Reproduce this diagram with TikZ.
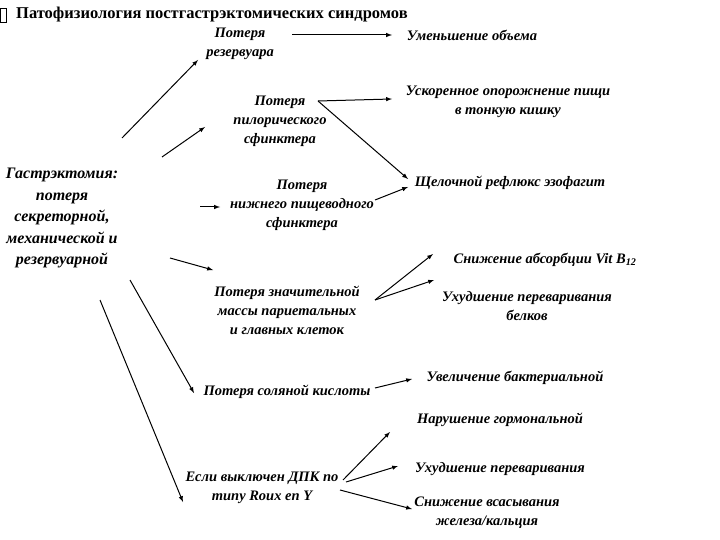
\documentclass[tikz,border=0pt]{standalone}
\usepackage{fontspec}
\setmainfont{Liberation Serif}
\begin{document}
\begin{tikzpicture}[x=1pt,y=-1pt,
 t/.style={font=\bfseries\itshape\fontsize{14.5}{19}\selectfont,align=center,inner sep=0},
 ar/.style={-latex,line width=1pt}]
\useasboundingbox (0,0) rectangle (720,540);
\fill[white] (0,0) rectangle (720,540);
\draw (0,8) rectangle (6,22);
\node[anchor=west,font=\bfseries\fontsize{16.5}{18}\selectfont,inner sep=0] (title) at (16,15) {Патофизиология постгастрэктомических синдромов};
\node[t,font=\bfseries\itshape\fontsize{16}{21.5}\selectfont] (g) at (62,218) {Гастрэктомия:\\потеря\\секреторной,\\механической и\\резервуарной};
\node[t] (a) at (240,44) {Потеря\\резервуара};
\node[t] (a1) at (472,35) {Уменьшение объема};
\node[t] (b) at (280,121) {Потеря\\пилорического\\сфинктера};
\node[t] (b1) at (508,102) {Ускоренное опорожнение пищи\\в тонкую кишку};
\node[t] (c1) at (510,183) {Щелочной рефлюкс эзофагит};
\node[t] (c) at (302,205) {Потеря\\нижнего пищеводного\\сфинктера};
\node[t] (d) at (287,310) {Потеря значительной\\массы париетальных\\и главных клеток};
\node[t] (d1) at (545,260) {Снижение абсорбции Vit B\textsubscript{12}};
\node[t] (d2) at (527,306) {Ухудшение переваривания\\белков};
\node[t] (e) at (287,392) {Потеря соляной кислоты};
\node[t] (e1) at (515,378) {Увеличение бактериальной};
\node[t] (f) at (262,488) {Если выключен ДПК по\\типу Roux en Y};
\node[t] (f1) at (500,420) {Нарушение гормональной};
\node[t] (f2) at (500,469) {Ухудшение переваривания};
\node[t] (f3) at (487,513) {Снижение всасывания\\железа/кальция};
\coordinate (p1) at (122,138); \coordinate (q1) at (198,60);
\coordinate (p2) at (162,157); \coordinate (q2) at (205,127);
\coordinate (p3) at (200,207); \coordinate (q3) at (220,207);
\coordinate (p4) at (170,258); \coordinate (q4) at (213,270);
\coordinate (p5) at (130,280); \coordinate (q5) at (194,393);
\coordinate (p6) at (100,300); \coordinate (q6) at (183,502);
\draw[ar] (p1) -- (q1);
\draw[ar] (p2) -- (q2);
\draw[ar] (p3) -- (q3);
\draw[ar] (p4) -- (q4);
\draw[ar] (p5) -- (q5);
\draw[ar] (p6) -- (q6);
\coordinate (r1) at (292,35); \coordinate (s1) at (392,35);
\coordinate (r2) at (318,101); \coordinate (s2) at (392,99);
\coordinate (s3) at (408,179);
\coordinate (r4) at (375,200); \coordinate (s4) at (408,187);
\coordinate (r5) at (375,300); \coordinate (s5) at (433,254); \coordinate (s6) at (434,280);
\coordinate (r7) at (375,388); \coordinate (s7) at (412,379);
\coordinate (r8) at (343,480); \coordinate (s8) at (390,432);
\coordinate (r9) at (346,482); \coordinate (s9) at (398,466);
\coordinate (r10) at (340,490); \coordinate (s10) at (412,509);
\draw[ar] (r1) -- (s1);
\draw[ar] (r2) -- (s2);
\draw[ar] (r2) -- (s3);
\draw[ar] (r4) -- (s4);
\draw[ar] (r5) -- (s5);
\draw[ar] (r5) -- (s6);
\draw[ar] (r7) -- (s7);
\draw[ar] (r8) -- (s8);
\draw[ar] (r9) -- (s9);
\draw[ar] (r10) -- (s10);
\end{tikzpicture}
\end{document}
